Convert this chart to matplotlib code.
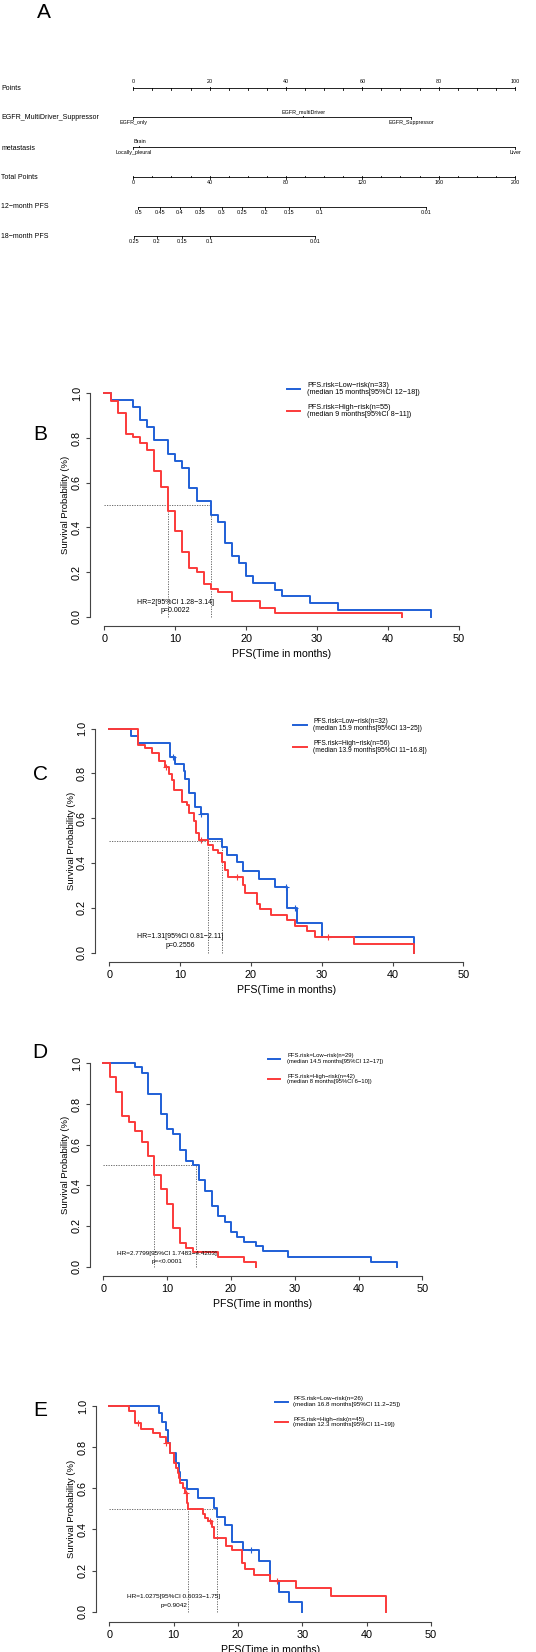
import matplotlib
matplotlib.use('Agg')
import matplotlib.pyplot as plt
import numpy as np

plt.rcParams['font.family'] = ['Liberation Sans', 'DejaVu Sans']

W, H = 536, 1652
BLUE = '#1f5fd6'
RED = '#fb3a3a'
AXC = '#444444'

# ---------------- nomogram (A) ----------------
points_labels = [0, 20, 40, 60, 80, 100]
egfr_levels = ['EGFR_only', 'EGFR_multiDriver', 'EGFR_Suppressor']
egfr_points = [0, 44.5, 72.8]
meta_levels = ['Locally_pleural', 'Brain', 'Liver']
meta_points = [0, 1.6, 100]
total_labels = [0, 40, 80, 120, 160, 200]
pfs12_probs = ['0.5', '0.45', '0.4', '0.35', '0.3', '0.25', '0.2', '0.15', '0.1', '0.01']
pfs12_total = [2.6, 14, 24.5, 35, 46.3, 57.1, 69, 81.7, 97.8, 153.4]
pfs18_probs = ['0.25', '0.2', '0.15', '0.1', '0.01']
pfs18_total = [0.5, 12.3, 25.4, 40.2, 95.2]

# ---------------- KM data ----------------
# B
b_low_t = [0, 1, 4, 5, 6, 7, 9, 10, 11, 12, 13, 15, 16, 17, 18, 19, 20, 21, 24, 25, 29, 33, 46]
b_low_s = [1, 0.97, 0.94, 0.88, 0.85, 0.79, 0.728, 0.698, 0.666, 0.575, 0.516, 0.455, 0.425,
           0.331, 0.273, 0.242, 0.182, 0.152, 0.121, 0.091, 0.06, 0.03, 0]
b_high_t = [0, 1, 2, 3, 4, 5, 6, 7, 8, 9, 10, 11, 12, 13, 14, 15, 16, 18, 22, 24, 42]
b_high_s = [1, 0.965, 0.91, 0.818, 0.803, 0.779, 0.746, 0.654, 0.579, 0.473, 0.384, 0.29, 0.22,
            0.2, 0.145, 0.124, 0.109, 0.072, 0.038, 0.018, 0]
b_medians = [15, 9]
b_legend = ['PFS.risk=Low\u2212risk(n=33)\n(median 15 months[95%CI 12\u221218])',
            'PFS.risk=High\u2212risk(n=55)\n(median 9 months[95%CI 8\u221211])']
b_hr = ['HR=2[95%CI 1.28\u22123.14]', 'p=0.0022']

# C
c_low_t = [0, 3, 4, 8.6, 9.3, 10.5, 10.7, 11.2, 12.1, 13.0, 14.0, 15.9, 16.6, 18, 18.9, 21.1,
           23.4, 25.1, 26.5, 30, 43]
c_low_s = [1, 0.967, 0.937, 0.875, 0.842, 0.81, 0.775, 0.714, 0.649, 0.618, 0.507, 0.473, 0.436,
           0.402, 0.365, 0.327, 0.292, 0.198, 0.131, 0.067, 0]
c_low_cens_t = [9.0, 13.0, 24.9, 26.2]
c_low_cens_s = [0.875, 0.618, 0.292, 0.198]
c_high_t = [0, 4, 5, 6, 7.07, 7.9, 8.4, 8.8, 9.2, 10.2, 11.0, 11.3, 11.9, 12.3, 12.6, 14.0, 14.7,
            15.4, 15.9, 16.4, 16.8, 18.9, 19.1, 20.8, 21.3, 22.8, 25.1, 26.2, 27.9, 29.1, 34.5, 43]
c_high_s = [1, 0.927, 0.912, 0.892, 0.855, 0.83, 0.797, 0.77, 0.726, 0.674, 0.66, 0.622, 0.585,
            0.533, 0.503, 0.48, 0.458, 0.444, 0.406, 0.369, 0.336, 0.302, 0.265, 0.217, 0.194,
            0.168, 0.143, 0.12, 0.097, 0.071, 0.039, 0]
c_high_cens_t = [8.0, 13.0, 18.0, 30.9]
c_high_cens_s = [0.83, 0.503, 0.336, 0.071]
c_medians = [15.9, 13.9]
c_legend = ['PFS.risk=Low\u2212risk(n=32)\n(median 15.9 months[95%CI 13\u221225])',
            'PFS.risk=High\u2212risk(n=56)\n(median 13.9 months[95%CI 11\u221216.8])']
c_hr = ['HR=1.31[95%CI 0.81\u22122.11]', 'p=0.2556']

# D
d_low_t = [0, 5, 6, 7, 9, 10, 11, 12, 13, 14, 15, 16, 17, 18, 19, 20, 21, 22, 24, 25, 29, 42, 46]
d_low_s = [1, 0.98, 0.951, 0.849, 0.751, 0.675, 0.651, 0.574, 0.521, 0.5, 0.426, 0.374, 0.298,
           0.249, 0.221, 0.172, 0.147, 0.123, 0.102, 0.074, 0.049, 0.021, 0]
d_high_t = [0, 1, 2, 3, 4, 5, 6, 7, 8, 9, 10, 11, 12, 13, 14, 18, 22, 24]
d_high_s = [1, 0.931, 0.857, 0.741, 0.713, 0.667, 0.615, 0.546, 0.451, 0.381, 0.307, 0.189,
            0.118, 0.093, 0.071, 0.045, 0.022, 0]
d_medians = [14.5, 8]
d_legend = ['PFS.risk=Low\u2212risk(n=29)\n(median 14.5 months[95%CI 12\u221217])',
            'PFS.risk=High\u2212risk(n=42)\n(median 8 months[95%CI 6\u221210])']
d_hr = ['HR=2.7799[95%CI 1.7483\u22124.4203]', 'p=<0.0001']

# E
e_low_t = [0, 7.8, 8.2, 8.8, 9.2, 9.5, 10.3, 10.8, 11.0, 12.0, 13.8, 16.3, 16.8, 18.0, 19.0, 20.8,
           23.3, 25.0, 26.4, 28.0, 29.9]
e_low_s = [1, 0.965, 0.924, 0.883, 0.82, 0.77, 0.721, 0.68, 0.64, 0.595, 0.551, 0.505, 0.46, 0.42,
           0.337, 0.3, 0.246, 0.149, 0.097, 0.049, 0]
e_low_cens_t = [22.0]
e_low_cens_s = [0.3]
e_high_t = [0, 3, 4, 5, 6.8, 7.9, 8.8, 9.5, 10.0, 10.3, 10.6, 10.8, 11.0, 11.5, 11.8, 12.0, 12.3,
            14.5, 14.9, 15.3, 15.9, 16.2, 16.3, 18.2, 19.0, 20.6, 21.1, 22.5, 25.0, 29.0, 34.5, 43]
e_high_s = [1, 0.978, 0.916, 0.89, 0.867, 0.851, 0.82, 0.77, 0.721, 0.697, 0.672, 0.648, 0.624,
            0.6, 0.576, 0.527, 0.498, 0.474, 0.457, 0.44, 0.413, 0.384, 0.356, 0.319, 0.3, 0.235,
            0.207, 0.178, 0.149, 0.117, 0.076, 0]
e_high_cens_t = [4.5, 8.8, 11.9, 15.7, 26.0]
e_high_cens_s = [0.916, 0.82, 0.576, 0.44, 0.149]
e_medians = [16.8, 12.3]
e_legend = ['PFS.risk=Low\u2212risk(n=26)\n(median 16.8 months[95%CI 11.2\u221225])',
            'PFS.risk=High\u2212risk(n=45)\n(median 12.3 months[95%CI 11\u221219])']
e_hr = ['HR=1.0275[95%CI 0.6033\u22121.75]', 'p=0.9042']

fig = plt.figure(figsize=(W / 100, H / 100), dpi=100)


def px_axes(x0, y0, x1, y1):
    return fig.add_axes([x0 / W, 1 - y1 / H, (x1 - x0) / W, (y1 - y0) / H])


# ---------------- nomogram ----------------
nx0, nx100 = 133.3, 515.0
ppx = (nx100 - nx0) / 100.0
nom = px_axes(0, 0, W, 270)
nom.set_xlim(-nx0 / ppx, (W - nx0) / ppx)
nom.set_ylim(270, 0)
nom.axis('off')
lk = dict(color='black', lw=0.6)
fs_row = 5.0
fs_tick = 3.9


def row_label(y, s):
    nom.text(-nx0 / ppx + 0.3, y, s, fontsize=fs_row, va='center', ha='left')


# Points
yp = 88.3
row_label(yp, 'Points')
nom.plot([0, 100], [yp, yp], **lk)
for v in np.arange(0, 101, 5):
    nom.plot([v, v], [yp, yp + 1.6], **lk)
for v in points_labels:
    nom.plot([v, v], [yp - 1.6, yp], **lk)
    nom.text(v, yp - 4.5, str(v), fontsize=fs_tick, ha='center', va='bottom')

# EGFR
ye = 117.3
row_label(ye, 'EGFR_MultiDriver_Suppressor')
nom.plot([min(egfr_points), max(egfr_points)], [ye, ye], **lk)
for lev, p in zip(egfr_levels, egfr_points):
    if lev == 'EGFR_multiDriver':
        nom.plot([p, p], [ye - 1.8, ye], **lk)
        nom.text(p, ye - 3.2, lev, fontsize=fs_tick, ha='center', va='bottom')
    else:
        nom.plot([p, p], [ye, ye + 1.8], **lk)
        nom.text(p, ye + 3.0, lev, fontsize=fs_tick, ha='center', va='top')

# metastasis
ym = 147.3
row_label(ym + 0.7, 'metastasis')
nom.plot([min(meta_points), max(meta_points)], [ym, ym], **lk)
for lev, p in zip(meta_levels, meta_points):
    if lev == 'Brain':
        nom.plot([p, p], [ym - 1.8, ym], **lk)
        nom.text(p, ym - 3.2, lev, fontsize=fs_tick, ha='center', va='bottom')
    else:
        nom.plot([p, p], [ym, ym + 1.8], **lk)
        nom.text(p, ym + 3.0, lev, fontsize=fs_tick, ha='center', va='top')

# Total Points
yt = 177.3
row_label(yt, 'Total Points')
nom.plot([0, 100], [yt, yt], **lk)
for v in np.arange(0, 201, 10):
    nom.plot([v / 2, v / 2], [yt - 1.6, yt], **lk)
for v in total_labels:
    nom.plot([v / 2, v / 2], [yt, yt + 1.6], **lk)
    nom.text(v / 2, yt + 3.2, str(v), fontsize=fs_tick, ha='center', va='top')

# 12/18-month PFS
for y, lab, probs, tots in [(206.7, '12\u2212month PFS', pfs12_probs, pfs12_total),
                            (236.0, '18\u2212month PFS', pfs18_probs, pfs18_total)]:
    row_label(y, lab)
    nom.plot([tots[0] / 2, tots[-1] / 2], [y, y], **lk)
    for pr, t in zip(probs, tots):
        nom.plot([t / 2, t / 2], [y, y + 1.8], **lk)
        nom.text(t / 2, y + 3.2, pr, fontsize=fs_tick, ha='center', va='top')


# ---------------- KM panels ----------------
def km_panel(lay, low, high, low_cens, high_cens, medians, legend, hr, leg_lay, fs_leg, fs_hr):
    x0, x50, y0, y1, yax, xax = lay
    ax = px_axes(x0, y1, x50, y0)
    ax.set_xlim(0, 50)
    ax.set_ylim(0, 1)
    for sp in ['top', 'right']:
        ax.spines[sp].set_visible(False)
    ax.spines['left'].set_position(('outward', (x0 - yax) * 0.72))
    ax.spines['bottom'].set_position(('outward', (xax - y0) * 0.72))
    ax.spines['left'].set_bounds(0, 1)
    ax.spines['bottom'].set_bounds(0, 50)
    for sp in ['left', 'bottom']:
        ax.spines[sp].set_color(AXC)
        ax.spines[sp].set_linewidth(0.8)
    ax.set_xticks([0, 10, 20, 30, 40, 50])
    ax.set_yticks([0, 0.2, 0.4, 0.6, 0.8, 1.0])
    ax.set_yticklabels(['0.0', '0.2', '0.4', '0.6', '0.8', '1.0'], rotation=90, va='center')
    ax.tick_params(colors=AXC, labelcolor='black', labelsize=7.8, length=3, width=0.8, pad=3)
    ax.patch.set_alpha(0)

    ax.set_xlabel('PFS(Time in months)', fontsize=7.6)
    ax.xaxis.set_label_coords(0.5, (y0 - (xax + 28.5)) / (y0 - y1))
    ax.xaxis.label.set_va('center')
    ax.set_ylabel('Survival Probability (%)', fontsize=6.8)
    ax.yaxis.set_label_coords(-(x0 - (yax - 24)) / (x50 - x0), 0.5)
    ax.yaxis.label.set_va('center')

    # median reference lines
    dk = dict(color='#555555', lw=0.6, ls=(0, (1.5, 1.5)), clip_on=False)
    ax.plot([0, max(medians)], [0.5, 0.5], **dk)
    for m in medians:
        ax.plot([m, m], [0, 0.5], **dk)

    for (t, s), (ct, cs), col in [(low, low_cens, BLUE), (high, high_cens, RED)]:
        ax.step(t, s, where='post', color=col, lw=1.4, clip_on=False, zorder=3)
        if ct:
            ax.plot(ct, cs, '+', color=col, ms=4, mew=0.8, clip_on=False, zorder=3)

    ax.text(10, hr[2], hr[0], fontsize=fs_hr, ha='center', va='center', zorder=5)
    ax.text(10, hr[3], hr[1], fontsize=fs_hr, ha='center', va='center', zorder=5)

    # legend, drawn in pixel space
    lx0, lx1, tx, ly_blue, ly_red = leg_lay
    for yy, col, txt in [(ly_blue, BLUE, legend[0]), (ly_red, RED, legend[1])]:
        fig.add_artist(plt.Line2D([lx0 / W, lx1 / W], [1 - yy / H, 1 - yy / H],
                                  color=col, lw=1.4))
        fig.text(tx / W, 1 - yy / H, txt, fontsize=fs_leg, ha='left', va='center',
                 linespacing=1.15)
    return ax


# layout: x(0), x(50), y(0), y(1), y-axis line x, x-axis line y
km_panel((104.3, 459.0, 616.7, 393.3, 90, 625.7),
         (b_low_t, b_low_s), (b_high_t, b_high_s), ([], []), ([], []),
         b_medians, b_legend, b_hr + [0.065, 0.028],
         (287, 300, 307, 389, 411), 5.2, 5.0)
km_panel((109.3, 463.3, 952.5, 728.5, 95, 961.7),
         (c_low_t, c_low_s), (c_high_t, c_high_s), (c_low_cens_t, c_low_cens_s),
         (c_high_cens_t, c_high_cens_s),
         c_medians, c_legend, c_hr + [0.072, 0.03],
         (293, 307, 313, 725, 747), 4.8, 5.0)
km_panel((103.3, 422.3, 1266.5, 1063.3, 90, 1275.7),
         (d_low_t, d_low_s), (d_high_t, d_high_s), ([], []), ([], []),
         d_medians, d_legend, d_hr + [0.066, 0.025],
         (268, 280, 287, 1058.5, 1079), 4.2, 4.6)
km_panel((109.3, 431.0, 1611.7, 1406.0, 96, 1621.7),
         (e_low_t, e_low_s), (e_high_t, e_high_s), (e_low_cens_t, e_low_cens_s),
         (e_high_cens_t, e_high_cens_s),
         e_medians, e_legend, e_hr + [0.073, 0.03],
         (275, 288, 293, 1401.5, 1422), 4.5, 4.6)

# panel letters
for lab, (x, y) in zip('ABCDE', [(44, 12), (40, 434), (40, 774), (40, 1053), (40, 1411)]):
    fig.text(x / W, 1 - y / H, lab, fontsize=15, ha='center', va='center')

fig.savefig('out.png', dpi=100)
